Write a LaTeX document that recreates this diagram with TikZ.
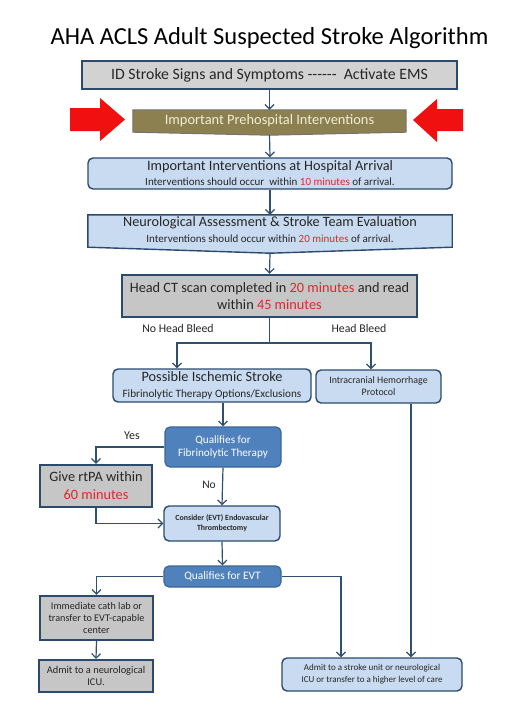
\documentclass[tikz,border=0pt]{standalone}
\usepackage{fontspec}
\setmainfont{Carlito}
\usetikzlibrary{arrows.meta}
\definecolor{bordc}{HTML}{2C4A6E}
\definecolor{linec}{HTML}{30506F}
\definecolor{greyc}{HTML}{C6C6C6}
\definecolor{greyl}{HTML}{D2D2D2}
\definecolor{lblue}{HTML}{C9DBF1}
\definecolor{mblue}{HTML}{4F81BD}
\definecolor{mbord}{HTML}{3B6699}
\definecolor{olive}{HTML}{8C8050}
\definecolor{cream}{HTML}{F3EDD3}
\definecolor{redtxt}{HTML}{E0262E}
\definecolor{redarr}{HTML}{F01010}
\newcommand\myfs[2]{\fontsize{#1}{#2}\selectfont}
\newcommand\redt[1]{\textcolor{redtxt}{#1}}
\tikzset{
  box/.style={inner sep=0pt, align=center, text=black!85},
  greybox/.style={box, draw=bordc, fill=greyc, line width=2pt},
  lbox/.style={box, draw=bordc, fill=lblue, line width=1.4pt, rounded corners=5pt},
  mbox/.style={box, draw=mbord, fill=mblue, line width=1.2pt, rounded corners=5pt, text=white},
  arr/.style={draw=linec, line width=1.2pt, -{Straight Barb[length=4.5pt,width=9pt]}},
  plain/.style={draw=linec, line width=1.2pt},
  lbl/.style={inner sep=0pt, text=black!85},
  redarrow/.style={fill=redarr, draw=none}
}
\begin{document}
\begin{tikzpicture}[x=1pt,y=-1pt]
\useasboundingbox (0,0) rectangle (522,728);
\fill[white] (0,0) rectangle (522,728);

% title
\node[lbl, text=black, font=\myfs{24.5}{28}] (title) at (269.5,38) {AHA ACLS Adult Suspected Stroke Algorithm};

% box 1
\node[greybox, fill=greyl, minimum width=375pt, minimum height=28pt, font=\myfs{15.8}{18}] (ems) at (269.5,75)
  {ID Stroke Signs and Symptoms {-}{-}{-}{-}{-}{-} \ Activate EMS};

% prehospital (banner with pointed bottom)
\node[box, minimum width=273pt, minimum height=22pt] (pre) at (269.5,121) {};
\draw[fill=olive, draw=black!55, line width=1pt]
  (pre.north west) -- (pre.north east) -- (pre.south east) -- ([yshift=-3pt]pre.south) -- (pre.south west) -- cycle;
\node[lbl, text=cream, font=\myfs{14.4}{17}] (pretxt) at (pre.center) {Important Prehospital Interventions};

% red arrows
\fill[redarrow] (70,108) -- (100,108) -- (100,98) -- (125,119.5) -- (100,141) -- (100,131) -- (70,131) -- cycle;
\fill[redarrow] (463,109) -- (437,109) -- (437,99) -- (413,120) -- (437,142) -- (437,131) -- (463,131) -- cycle;

% box 3
\node[lbox, minimum width=364pt, minimum height=31pt, font=\myfs{11}{15}] (hosp) at (270,173.5)
  {{\myfs{14.3}{15}Important Interventions at Hospital Arrival}\\
   Interventions should occur \ within \redt{10 minutes} of arrival.};

% box 4 (pointed bottom)
\node[box, minimum width=364pt, minimum height=32pt] (neuro) at (270,231) {};
\draw[fill=lblue, draw=bordc, line width=1.4pt]
  (neuro.north west) -- (neuro.north east) -- (neuro.south east) -- ([yshift=-6pt]neuro.south) -- (neuro.south west) -- cycle;
\node[lbl, align=center, font=\myfs{11}{16}] (neurotxt) at ([yshift=1pt]neuro.center)
  {{\myfs{14.2}{16}Neurological Assessment \& Stroke Team Evaluation}\\
   Interventions should occur within \redt{20 minutes} of arrival.};

% head CT
\node[greybox, line width=2.4pt, minimum width=295pt, minimum height=42pt, font=\myfs{14.3}{17}] (ct) at (269.5,296)
  {Head CT scan completed in \redt{20 minutes} and read\\
   within \redt{45 minutes}};

\node[lbl, font=\myfs{11.8}{14}] (nobleed) at (178,328) {No Head Bleed};
\node[lbl, font=\myfs{11.8}{14}] (bleed) at (359,328) {Head Bleed};

% ischemic & hemorrhage
\node[lbox, minimum width=198pt, minimum height=33pt, font=\myfs{11.2}{16}] (isch) at (212,385.5)
  {{\myfs{14.3}{16}Possible Ischemic Stroke}\\
   Fibrinolytic Therapy Options/Exclusions};
\node[lbox, minimum width=125pt, minimum height=33pt, font=\myfs{9.9}{12}] (ich) at (378.5,386.5)
  {Intracranial Hemorrhage\\Protocol};

% qualifies for fibrinolytic
\node[mbox, minimum width=116pt, minimum height=40pt, font=\myfs{11.2}{13.5}] (qfib) at (223,447)
  {Qualifies for\\Fibrinolytic Therapy};

% rtPA
\node[greybox, line width=2.2pt, minimum width=112pt, minimum height=42pt, font=\myfs{14.3}{18}] (rtpa) at (96,486)
  {Give rtPA within\\\redt{60 minutes}};

\node[lbl, font=\myfs{12}{14}] (yes) at (132,436) {Yes};
\node[lbl, font=\myfs{11.5}{14}] (no) at (209,485) {No};

% consider EVT
\node[lbox, minimum width=116pt, minimum height=35pt, font=\myfs{7.9}{10}\bfseries] (evt) at (222,523.5)
  {Consider (EVT) Endovascular\\Thrombectomy};

% qualifies for EVT
\node[mbox, minimum width=117pt, minimum height=21pt, font=\myfs{11.4}{14}] (qevt) at (222.5,576.5)
  {Qualifies for EVT};

% cath lab
\node[greybox, line width=2.2pt, minimum width=113pt, minimum height=44pt, font=\myfs{10.2}{12}] (cath) at (96.5,618)
  {Immediate cath lab or\\transfer to EVT-capable\\center};

% neuro ICU
\node[greybox, line width=2.2pt, minimum width=114pt, minimum height=32pt, font=\myfs{10.4}{12}] (icu) at (96,676)
  {Admit to a neurological\\ICU.};

% stroke unit
\node[lbox, minimum width=180pt, minimum height=33pt, font=\myfs{9}{12}] (admit) at (372,674.5)
  {Admit to a stroke unit or neurological\\ICU or transfer to a higher level of care};

% connectors
\coordinate (nl) at (177,343);
\coordinate (nr) at (371,343);
\coordinate (rx) at (341,577);
\coordinate (hx) at (411,500);

\draw[arr] (ems.south) -- (pre.north);
\draw[arr] ([yshift=-3pt]pre.south) -- (hosp.north);
\draw[arr] (hosp.south) -- (neuro.north);
\draw[arr] ([yshift=-6pt]neuro.south) -- (ct.north);
\draw[plain] (ct.south) -- (ct.south |- nl);
\draw[arr] (ct.south |- nl) -| (isch.north -| nl);
\draw[arr] (ct.south |- nl) -| (ich.north -| nr);
\draw[arr] (isch.south -| qfib.north) -- (qfib.north);
\draw[arr] (qfib.west) -| (rtpa.north);
\draw[arr] (qfib.south) -- (evt.north);
\draw[arr] (rtpa.south) |- (evt.west);
\draw[arr] (evt.south) -- (qevt.north);
\draw[arr] (qevt.west) -| (cath.north);
\draw[arr] (cath.south) -- (icu.north);
\draw[arr] (qevt.east) -| (admit.north -| rx);
\draw[arr] (ich.south -| hx) -- (admit.north -| hx);
\end{tikzpicture}
\end{document}
